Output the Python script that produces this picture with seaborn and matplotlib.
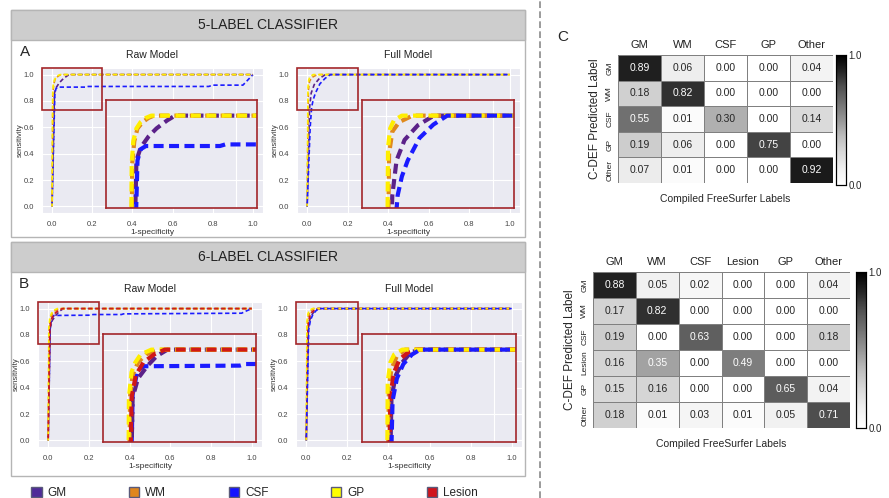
import matplotlib.pyplot as plt
import seaborn as sns
import pandas as pd
from matplotlib.patches import Rectangle, Patch
from matplotlib.lines import Line2D
from matplotlib.colors import PowerNorm

sns.set_style('darkgrid')
plt.rcParams['font.family'] = ['Liberation Sans', 'DejaVu Sans']

class_names = ['GM', 'WM', 'CSF', 'GP', 'Lesion']
class_colors = {'GM': '#5b2189', 'WM': '#e08a1c', 'CSF': '#1b1bff',
                'GP': '#ffee00', 'Lesion': '#d01818'}
legend_colors = {'GM': '#4f2a98', 'WM': '#e0861e', 'CSF': '#1414ff',
                 'GP': '#ffff00', 'Lesion': '#d0141c'}

# ROC curves (1-specificity, sensitivity)
raw5_fpr = {'GM': [0, 0.012, 0.02, 0.035, 0.05, 0.07, 0.085, 1.0],
            'WM': [0, 0.004, 0.008, 0.014, 0.024, 0.035, 0.045, 1.0],
            'CSF': [0, 0.014, 0.02, 0.03, 0.17, 0.18, 0.78, 0.8, 0.95, 1.0],
            'GP': [0, 0.003, 0.006, 0.012, 0.02, 0.03, 0.04, 1.0]}
raw5_tpr = {'GM': [0, 0.86, 0.9, 0.935, 0.96, 0.985, 1.0, 1.0],
            'WM': [0, 0.85, 0.92, 0.96, 0.98, 0.993, 1.0, 1.0],
            'CSF': [0, 0.86, 0.895, 0.905, 0.905, 0.91, 0.91, 0.92, 0.92, 1.0],
            'GP': [0, 0.85, 0.92, 0.96, 0.98, 0.993, 1.0, 1.0]}

full5_fpr = {'GM': [0, 0.012, 0.02, 0.035, 0.06, 0.09, 1.0],
             'WM': [0, 0.006, 0.012, 0.025, 0.05, 1.0],
             'CSF': [0, 0.015, 0.022, 0.03, 0.041, 0.063, 0.089, 0.115, 1.0],
             'GP': [0, 0.004, 0.008, 0.015, 0.03, 1.0]}
full5_tpr = {'GM': [0, 0.75, 0.86, 0.924, 0.97, 1.0, 1.0],
             'WM': [0, 0.88, 0.95, 0.98, 1.0, 1.0],
             'CSF': [0, 0.6, 0.75, 0.81, 0.86, 0.93, 0.972, 1.0, 1.0],
             'GP': [0, 0.9, 0.96, 0.985, 1.0, 1.0]}

raw6_fpr = {'GM': [0, 0.01, 0.02, 0.038, 0.055, 0.075, 1.0],
            'WM': [0, 0.005, 0.01, 0.02, 0.035, 0.057, 1.0],
            'CSF': [0, 0.01, 0.018, 0.028, 0.21, 0.22, 0.36, 0.37, 0.95, 0.97, 1.0],
            'GP': [0, 0.003, 0.008, 0.015, 0.025, 0.045, 1.0],
            'Lesion': [0, 0.008, 0.016, 0.03, 0.05, 0.07, 1.0]}
raw6_tpr = {'GM': [0, 0.85, 0.91, 0.95, 0.98, 1.0, 1.0],
            'WM': [0, 0.85, 0.92, 0.96, 0.985, 1.0, 1.0],
            'CSF': [0, 0.86, 0.925, 0.948, 0.95, 0.955, 0.955, 0.96, 0.965, 0.98, 1.0],
            'GP': [0, 0.85, 0.93, 0.96, 0.985, 1.0, 1.0],
            'Lesion': [0, 0.85, 0.92, 0.96, 0.985, 1.0, 1.0]}

full6_fpr = {'GM': [0, 0.01, 0.018, 0.03, 0.045, 0.06, 1.0],
             'WM': [0, 0.005, 0.01, 0.02, 0.035, 1.0],
             'CSF': [0, 0.012, 0.02, 0.032, 0.048, 0.063, 1.0],
             'GP': [0, 0.003, 0.008, 0.015, 0.03, 1.0],
             'Lesion': [0, 0.008, 0.015, 0.025, 0.04, 0.055, 1.0]}
full6_tpr = {'GM': [0, 0.85, 0.92, 0.96, 0.99, 1.0, 1.0],
             'WM': [0, 0.88, 0.94, 0.98, 1.0, 1.0],
             'CSF': [0, 0.84, 0.91, 0.955, 0.985, 1.0, 1.0],
             'GP': [0, 0.9, 0.96, 0.985, 1.0, 1.0],
             'Lesion': [0, 0.86, 0.93, 0.97, 0.99, 1.0, 1.0]}

labels5 = ['GM', 'WM', 'CSF', 'GP', 'Other']
conf5 = [[0.89, 0.06, 0.00, 0.00, 0.04],
         [0.18, 0.82, 0.00, 0.00, 0.00],
         [0.55, 0.01, 0.30, 0.00, 0.14],
         [0.19, 0.06, 0.00, 0.75, 0.00],
         [0.07, 0.01, 0.00, 0.00, 0.92]]

labels6 = ['GM', 'WM', 'CSF', 'Lesion', 'GP', 'Other']
conf6 = [[0.88, 0.05, 0.02, 0.00, 0.00, 0.04],
         [0.17, 0.82, 0.00, 0.00, 0.00, 0.00],
         [0.19, 0.00, 0.63, 0.00, 0.00, 0.18],
         [0.16, 0.35, 0.00, 0.49, 0.00, 0.00],
         [0.15, 0.16, 0.00, 0.00, 0.65, 0.04],
         [0.18, 0.01, 0.03, 0.01, 0.05, 0.71]]

W, H = 889, 498
dark_red = '#a3262a'
dash_off = {'GM': 0, 'WM': 1.6, 'CSF': 2.3, 'GP': 0.8, 'Lesion': 3.0}

fig = plt.figure(figsize=(W / 100, H / 100), dpi=100)
fig.patch.set_facecolor('white')


def px_axes(x0, y0, x1, y1):
    return fig.add_axes([x0 / W, 1 - y1 / H, (x1 - x0) / W, (y1 - y0) / H])


def px_rect(x0, y0, x1, y1, **kw):
    fig.add_artist(Rectangle((x0 / W, 1 - y1 / H), (x1 - x0) / W, (y1 - y0) / H,
                             transform=fig.transFigure, zorder=-1, **kw))


# block frames and headers
for top, bot, head in [(10, 237, '5-LABEL CLASSIFIER'), (242, 476, '6-LABEL CLASSIFIER')]:
    px_rect(11, top, 525, bot, fc='white', ec='#b5b5b5', lw=1)
    px_rect(11, top, 525, top + 30, fc='#cdcdcd', ec='#b5b5b5', lw=1)
    fig.text(268 / W, 1 - (top + 15) / H, head, ha='center', va='center', fontsize=10, color='#222')

fig.text(25 / W, 1 - 52 / H, 'A', ha='center', va='center', fontsize=11)
fig.text(24 / W, 1 - 284 / H, 'B', ha='center', va='center', fontsize=11)
fig.text(563 / W, 1 - 37 / H, 'C', ha='center', va='center', fontsize=11)


def draw_roc(ax, fpr, tpr, order, title):
    for lab in order:
        df = pd.DataFrame({'fpr': fpr[lab], 'tpr': tpr[lab]})
        sns.lineplot(data=df, x='fpr', y='tpr', ax=ax, color=class_colors[lab],
                     linewidth=1.2, linestyle=(dash_off[lab], (2.6, 1.6)),
                     estimator=None, sort=False)
    ax.set_xlim(-0.05, 1.05)
    ax.set_ylim(-0.05, 1.05)
    ax.set_xticks([0, 0.2, 0.4, 0.6, 0.8, 1.0])
    ax.set_yticks([0, 0.2, 0.4, 0.6, 0.8, 1.0])
    ax.tick_params(labelsize=5.5, pad=2, colors='#444')
    ax.set_xlabel('1-specificity', fontsize=6, labelpad=1, color='#333')
    ax.set_ylabel('sensitivity', fontsize=5.5, labelpad=0, color='#333')
    ax.set_title(title, fontsize=7.5, pad=7, color='#222')

    ins = ax.inset_axes([0.27, -0.015, 0.75, 0.825], transform=ax.transData)
    for lab in order:
        df = pd.DataFrame({'fpr': fpr[lab], 'tpr': tpr[lab]})
        sns.lineplot(data=df, x='fpr', y='tpr', ax=ins, color=class_colors[lab],
                     linewidth=3.0, linestyle=(dash_off[lab] * 0.8, (2.4, 1.3)),
                     estimator=None, sort=False)
    ins.set_xlim(-0.045, 0.24)
    ins.set_ylim(0.71, 1.05)
    ins.set_xticks([0, 0.2])
    ins.set_yticks([0.8, 1.0])
    ins.tick_params(length=0, labelbottom=False, labelleft=False)
    ins.set_xlabel('')
    ins.set_ylabel('')
    for s in ins.spines.values():
        s.set_visible(True)
        s.set_color(dark_red)
        s.set_linewidth(1.2)
    ax.add_patch(Rectangle((-0.05, 0.73), 0.30, 0.32, fill=False, ec=dark_red,
                           lw=1.2, clip_on=False, zorder=5))


draw_roc(px_axes(42, 68, 263, 213), raw5_fpr, raw5_tpr, ['GM', 'CSF', 'WM', 'GP'], 'Raw Model')
draw_roc(px_axes(297, 68, 520, 213), full5_fpr, full5_tpr, ['GM', 'WM', 'GP', 'CSF'], 'Full Model')
draw_roc(px_axes(38, 302, 262, 447), raw6_fpr, raw6_tpr, ['CSF', 'GM', 'WM', 'GP', 'Lesion'], 'Raw Model')
draw_roc(px_axes(296, 302, 522, 447), full6_fpr, full6_tpr, ['GM', 'WM', 'Lesion', 'GP', 'CSF'], 'Full Model')

# legend under the ROC panels
handles = [Patch(facecolor=legend_colors[c], edgecolor='#5a5a7a', linewidth=1) for c in class_names]
fig.legend(handles, class_names, loc='center left', ncol=5, mode='expand', frameon=False,
           bbox_to_anchor=(31 / W, 1 - 500 / H, 447 / W, 14 / H), borderaxespad=0, borderpad=0,
           handlelength=0.9, handleheight=0.9, handletextpad=0.5, fontsize=8.5)

# dashed divider
fig.add_artist(Line2D([540 / W, 540 / W], [0, 1], transform=fig.transFigure,
                      ls=(0, (4, 2)), color='#8a8a8a', lw=1.2))


def draw_conf(ax, cax, mat, labels, ylab_pad):
    df = pd.DataFrame(mat, index=labels, columns=labels)
    sns.heatmap(df, ax=ax, cbar_ax=cax, cmap='Greys', norm=PowerNorm(0.7, vmin=0, vmax=1.05),
                annot=True, fmt='.2f', annot_kws={'fontsize': 7.5},
                linewidths=0.5, linecolor='#808080')
    ax.xaxis.tick_top()
    ax.tick_params(length=0)
    ax.set_xticklabels(labels, fontsize=8, rotation=0, color='#222')
    ax.set_yticklabels(labels, fontsize=6, rotation=90, va='center', color='#222')
    ax.set_xlabel('Compiled FreeSurfer Labels', fontsize=7.5, labelpad=8)
    ax.set_ylabel('C-DEF Predicted Label', fontsize=8.5, labelpad=ylab_pad)
    cax.set_yticks([0, 1.05])
    cax.set_yticklabels(['0.0', '1.0'])
    cax.tick_params(length=0, labelsize=7, pad=2)
    for s in cax.spines.values():
        s.set_visible(True)
        s.set_color('black')
        s.set_linewidth(0.8)


draw_conf(px_axes(618, 55, 833, 183), px_axes(836, 55, 846, 185), conf5, labels5, 4)
draw_conf(px_axes(593, 272, 850, 428), px_axes(856, 272, 866, 428), conf6, labels6, 4)

fig.savefig('out.png', dpi=100)
